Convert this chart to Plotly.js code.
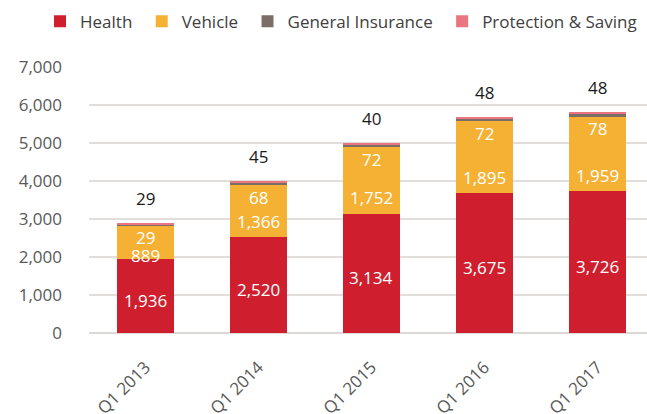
<!DOCTYPE html>
<html>
<head>
<meta charset="utf-8">
<script src="https://cdn.plot.ly/plotly-3.0.1.min.js"></script>
<style>
html,body{margin:0;padding:0;overflow:hidden;background:#fff;}
#chart{width:647px;height:414px;}
</style>
</head>
<body>
<div id="chart"></div>
<script>
const categories = ['Q1 2013', 'Q1 2014', 'Q1 2015', 'Q1 2016', 'Q1 2017'];
const health = [1936, 2520, 3134, 3675, 3726];
const vehicle = [889, 1366, 1752, 1895, 1959];
const generalInsurance = [29, 68, 72, 72, 78];
const protectionSaving = [29, 45, 40, 48, 48];
const seriesNames = ['Health', 'Vehicle', 'General Insurance', 'Protection & Saving'];
const yTickValues = [0, 1000, 2000, 3000, 4000, 5000, 6000, 7000];

const colors = ['#cf1f2f', '#f5b134', '#7b6e66', '#ea7480'];

const fmt = v => v.toLocaleString('en-US');
const FONT = 'Open Sans, sans-serif';
const Y_MAX = 7000;
const PLOT_H = 266; // plot height in px (414 - 67 - 81)
const pxPerUnit = PLOT_H / Y_MAX;

function barTrace(name, values, color) {
  return {
    type: 'bar',
    // trailing no-break space widens the legend entry spacing slightly
    name: name + '\u00a0',
    x: categories,
    y: values,
    marker: {color: color, line: {width: 0}},
    hoverinfo: 'skip'
  };
}

const seriesValues = [health, vehicle, generalInsurance, protectionSaving];
const traces = seriesNames.map((n, k) => barTrace(n, seriesValues[k], colors[k]));

const labelFont = (color) => ({family: FONT, size: 17, color: color});
const annotations = [];
categories.forEach((c, i) => {
  const h = health[i], v = vehicle[i], g = generalInsurance[i], p = protectionSaving[i];
  annotations.push({x: c, y: h / 2, text: fmt(h), showarrow: false, yshift: -4,
    font: labelFont('#ffffff')});
  const segPx = v * pxPerUnit;
  annotations.push({x: c, y: h, text: fmt(v), showarrow: false,
    yshift: Math.min(16, segPx - 30), font: labelFont('#ffffff')});
  annotations.push({x: c, y: h + v, text: fmt(g), showarrow: false, yshift: -12,
    font: labelFont('#ffffff')});
  annotations.push({x: c, y: h + v + g + p, text: fmt(p), showarrow: false, yshift: 24.5,
    font: labelFont('#1a1a1a')});
});

const layout = {
  width: 647,
  height: 414,
  margin: {l: 89, r: 0, t: 67, b: 81, pad: 0},
  paper_bgcolor: '#ffffff',
  plot_bgcolor: '#ffffff',
  barmode: 'stack',
  bargap: 0.5,
  showlegend: true,
  legend: {
    orientation: 'h',
    x: -0.085, xanchor: 'left',
    y: 1.17, yanchor: 'middle',
    font: {family: FONT, size: 17, color: '#404040'},
    traceorder: 'normal',
    itemclick: false
  },
  xaxis: {
    type: 'category',
    range: [-0.5, 4.44],
    tickangle: -45,
    tickfont: {family: FONT, size: 17, color: '#595959'},
    ticks: '',
    ticklabelstandoff: 20,
    showgrid: false,
    showline: false,
    zeroline: false,
    fixedrange: true
  },
  yaxis: {
    range: [0, Y_MAX],
    tickvals: yTickValues,
    ticktext: yTickValues.map(fmt),
    tickfont: {family: FONT, size: 17, color: '#595959'},
    ticks: '',
    ticklabelstandoff: 26,
    showgrid: true,
    gridcolor: '#e2dedb',
    gridwidth: 1.5,
    zeroline: true,
    zerolinecolor: '#dcd8d5',
    zerolinewidth: 2,
    showline: false,
    fixedrange: true
  },
  annotations: annotations
};

Plotly.newPlot('chart', traces, layout, {displayModeBar: false, staticPlot: true});
</script>
</body>
</html>
